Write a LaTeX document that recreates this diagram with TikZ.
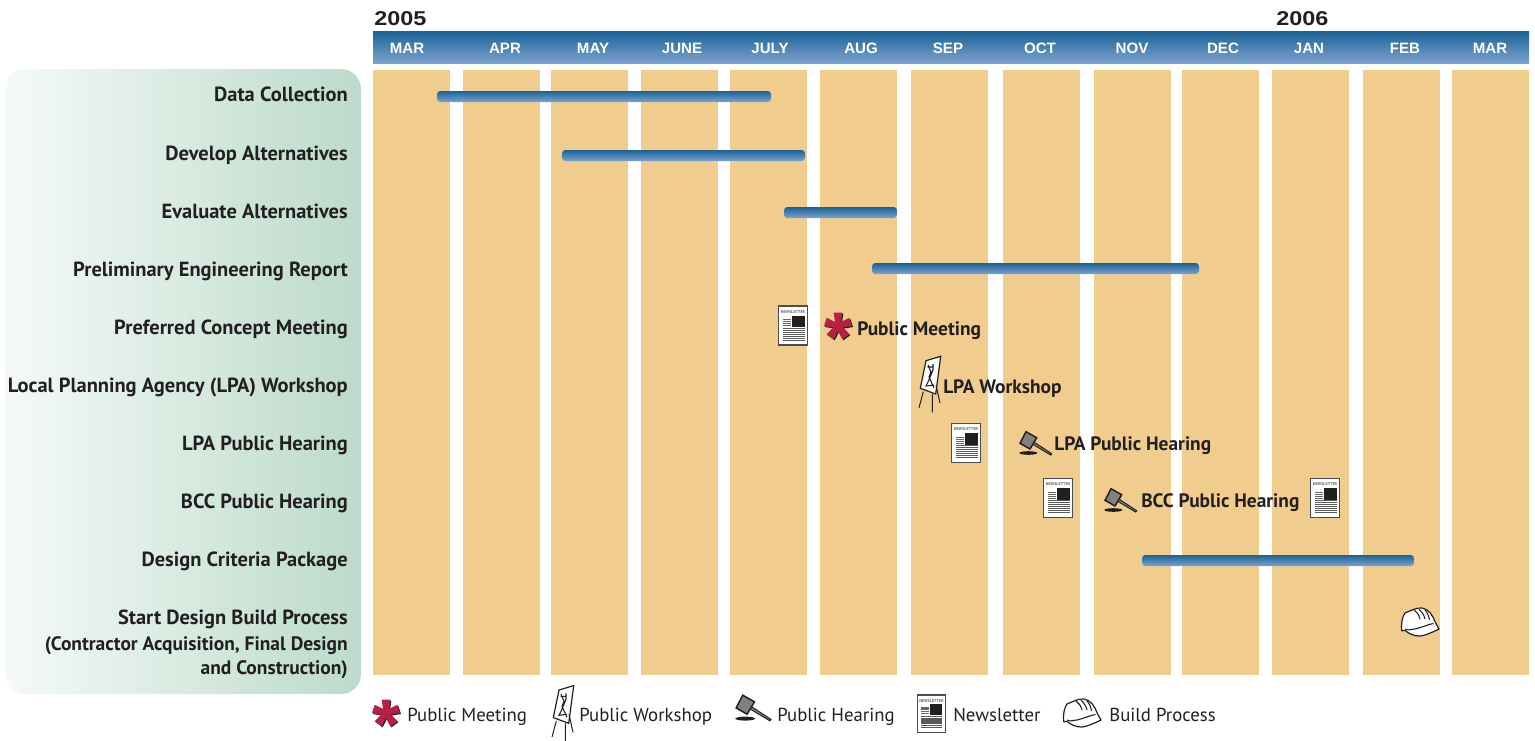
\documentclass[tikz,border=0pt]{standalone}
\usepackage{fontspec}
\setmainfont{PT Sans}
\newfontfamily\hdfont{Liberation Sans}
\definecolor{sand}{HTML}{F0CD8E}
\definecolor{ink}{HTML}{231F20}
\definecolor{bardark}{HTML}{1A6296}
\definecolor{barlight}{HTML}{7BA3CF}
\definecolor{panelA}{HTML}{F5FAF7}
\definecolor{panelB}{HTML}{BCDACB}
\definecolor{crimson}{HTML}{B81F45}
\tikzset{
  col/.style={fill=sand,draw=none},
  bar/.style={top color=bardark,bottom color=barlight,draw=none,rounded corners=2.5},
  rowlabel/.style={anchor=base east,align=right,text=ink,font=\fontsize{15.35pt}{18pt}\selectfont\bfseries,inner sep=0},
  sublabel/.style={anchor=base east,text=ink,font=\fontsize{14.6pt}{18pt}\selectfont\bfseries,inner sep=0},
  inlabel/.style={anchor=base west,text=ink,font=\fontsize{14.55pt}{18pt}\selectfont\bfseries,inner sep=0},
  legendlabel/.style={anchor=base west,text=ink,font=\fontsize{14.1pt}{18pt}\selectfont,inner sep=0},
  monthlabel/.style={anchor=base,text=white,font=\hdfont\fontsize{11.3pt}{13pt}\selectfont\bfseries,inner sep=0},
  yearlabel/.style={anchor=base west,text=ink,font=\hdfont\fontsize{15pt}{18pt}\selectfont\bfseries,inner sep=0,xscale=1.17,transform shape},
  newsletter/.pic={
    \draw[draw=black!70,fill=white,line width=.8] (0,0) rectangle (29,39);
    \node[inner sep=0,text=black!60,font=\fontsize{3.1pt}{3.5pt}\selectfont\bfseries] at (14.5,6) {NEWSLETTER};
    \fill[ink] (13.5,9.5) rectangle (26,21);
    \foreach \yy in {13,15,17,19}{\fill[black!60] (4,\yy) rectangle (12.3,\yy+1.1);}
    \foreach \yy in {21.5,23.5,25.5,27.5,29.5,31.5,33.5}{\fill[black!65] (4,\yy) rectangle (26,\yy+1.2);}
  },
  asterisk/.pic={
    \foreach \dd/\cc in {1/ink,0/crimson}{
    \fill[\cc,shift={(\dd,\dd)}] (-126:5) -- (-108:14) -- (-72:14) -- (-54:5) -- (-36:14) -- (0:14) -- (18:5) -- (36:14) -- (72:14) -- (90:5) -- (108:14) -- (144:14) -- (162:5) -- (180:14) -- (216:14) -- cycle;}
  },
  easel/.pic={
    \draw[draw=ink,fill=white,line width=.9] (-4,-24.3) -- (10.7,-28.7) -- (5.7,9) -- (-9.7,3.3) -- cycle;
    \draw[ink,line width=.75] (-6.7,6.7) -- (-11,22.7) (2.3,9) -- (2.3,27.3) (6,0) -- (10,18);
    \draw[ink,line width=.8] (-2,-20) -- (1,-13) -- (-1,-8) -- (4,3) (3,-21) -- (3,-15) -- (-2,-3) -- (-4,1) -- (4,0) (-2.5,-18) -- (3.5,-18);
  },
  gavel/.pic={
    \fill[ink] (-6.7,10) ellipse (9 and 1.8);
    \draw[black!85,fill=black!45,line width=.8] (-1.7,-1.3) -- (16.7,10.7) -- (15.7,12) -- (-2.7,1) -- cycle;
    \draw[ink,fill=black!50,line width=1.1] (-9,-11.3) -- (1.7,-5.3) -- (-5,6) -- (-15,.3) -- cycle;
  },
  hardhat/.pic={
    \draw[ink,fill=white,line width=.9,line join=round] (-18.3,8.7) .. controls (-19,2) and (-18,-5) .. (-15,-9) .. controls (-8,-12) and (-3,-14.5) .. (2,-14) .. controls (9,-13) and (13,-6) .. (15,-.3) .. controls (16,2) and (18,5) .. (19,7) .. controls (11,11) and (3,14) .. (0,14) .. controls (-6,14.3) and (-11,11.5) .. (-15,8.5) -- cycle;
    \draw[ink,line width=.8] (-15,7) .. controls (-11,9) and (-9,7) .. (-5,7) .. controls (2,5.5) and (9,2) .. (13.5,1.5);
    \draw[ink,line width=.8] (-6,-12) .. controls (-3,-10) and (-1,-7) .. (0,-3) (-1,-13) .. controls (2,-10) and (4,-7) .. (5,-3) (5,-12) .. controls (7,-10) and (9,-6) .. (9.5,-2);
  },
}
\begin{document}
\begin{tikzpicture}[x=.75pt,y=-.75pt]
\useasboundingbox (0,0) rectangle (1535,740);
% left panel
\path[left color=panelA,right color=panelB,rounded corners=15] (5,69) rectangle (361,694);
% header
\path[top color=bardark,bottom color=barlight] (373,31) rectangle (1529,63);
% columns
\foreach \xa in {373,463,551,641,730,820,911,1003,1094,1182,1272,1363,1452}{
  \path[col] (\xa,70) rectangle (\xa+77,675);
}
% years
\node[yearlabel] (y05) at (374,25) {2005};
\node[yearlabel] (y06) at (1276,25) {2006};
% months
\foreach \nm/\xc/\lbl in {m1/407/MAR,m2/505/APR,m3/593/MAY,m4/682/JUNE,m5/770/JULY,m6/861/AUG,m7/948/SEP,m8/1040/OCT,m9/1132/NOV,m10/1223/DEC,m11/1309/JAN,m12/1405/FEB,m13/1490/MAR}{
  \node[monthlabel] (\nm) at (\xc,53) {\lbl};
}
% row labels
\node[rowlabel] (r1) at (348,101) {Data Collection};
\node[rowlabel] (r2) at (348,160) {Develop Alternatives};
\node[rowlabel] (r3) at (348,218) {Evaluate Alternatives};
\node[rowlabel] (r4) at (348,276) {Preliminary Engineering Report};
\node[rowlabel] (r5) at (348,334) {Preferred Concept Meeting};
\node[rowlabel] (r6) at (348,392) {Local Planning Agency (LPA) Workshop};
\node[rowlabel] (r7) at (348,450) {LPA Public Hearing};
\node[rowlabel] (r8) at (348,508) {BCC Public Hearing};
\node[rowlabel] (r9) at (348,566) {Design Criteria Package};
\node[rowlabel] (r10) at (348,624) {Start Design Build Process};
\node[sublabel] (r10b) at (348,650.5) {(Contractor Acquisition, Final Design};
\node[sublabel] (r10c) at (348,674.5) {and Construction)};
% bars
\path[bar] (437,91) rectangle (771,102);
\path[bar] (562,150) rectangle (805,161);
\path[bar] (784,207) rectangle (897,218);
\path[bar] (872,263) rectangle (1199,274);
\path[bar] (1142,555) rectangle (1414,566);
% icons in chart
\pic at (778.5,306) {newsletter};
\pic at (838,326) {asterisk};
\node[inlabel] (t1) at (857,335) {Public Meeting};
\pic at (930,385) {easel};
\node[inlabel] (t2) at (943,393) {LPA Workshop};
\pic at (951.5,423.5) {newsletter};
\pic at (1035,443) {gavel};
\node[inlabel] (t3) at (1054,450) {LPA Public Hearing};
\pic at (1043.5,478.5) {newsletter};
\pic at (1120,500) {gavel};
\node[inlabel] (t4) at (1141,507) {BCC Public Hearing};
\pic at (1310.5,478.5) {newsletter};
\pic at (1420,622) {hardhat};
% legend
\pic at (386,713) {asterisk};
\node[legendlabel] (l1) at (407,721) {Public Meeting};
\pic at (563,714.3) {easel};
\node[legendlabel] (l2) at (579,721) {Public Workshop};
\pic[scale=1.1] at (752.6,707.6) {gavel};
\node[legendlabel] (l3) at (777,721) {Public Hearing};
\pic[scale=.96] at (917.5,695) {newsletter};
\node[legendlabel] (l4) at (953,721) {Newsletter};
\pic at (1082,713) {hardhat};
\node[legendlabel] (l5) at (1109,721) {Build Process};
\end{tikzpicture}
\end{document}
